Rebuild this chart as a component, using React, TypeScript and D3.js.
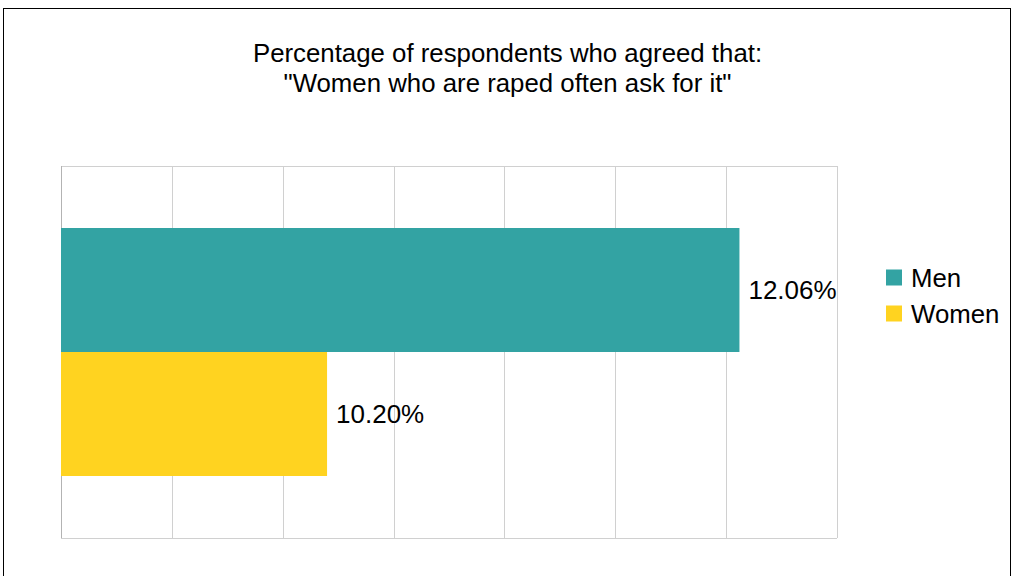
import React from "react";
import * as d3 from "d3";

const titleLines = ["Percentage of respondents who agreed that:", "\"Women who are raped often ask for it\""];
const seriesNames = ["Men", "Women"];
const seriesValues = [12.06, 10.2];
const seriesColors = ["#33a3a3", "#ffd320"];
const axisDomain = [9, 12.5];
const tickStep = 0.5;

const W = 1014;
const H = 576;
const plot = { left: 61, right: 837, top: 166, bottom: 538 };
const FONT = "'Liberation Sans', Arial, sans-serif";

export default function App() {
  const x = d3.scaleLinear().domain(axisDomain).range([plot.left, plot.right]);
  const y = d3
    .scaleBand<string>()
    .domain(seriesNames)
    .range([plot.top, plot.bottom])
    .paddingInner(0)
    .paddingOuter(0.5);
  const ticks = d3.range(axisDomain[0], axisDomain[1] + tickStep / 2, tickStep);

  return (
    <svg
      width={W}
      height={H}
      style={{ position: "absolute", left: 0, top: 0, background: "#fff" }}
      fontFamily={FONT}
    >
      <rect x={0} y={0} width={W} height={H} fill="#fff" />
      <rect x={3.5} y={8.5} width={1007} height={600} fill="none" stroke="#000" strokeWidth={1} />
      {titleLines.map((t, i) => (
        <text key={i} x={507.5} y={62 + i * 30} textAnchor="middle" fontSize={25.8} fill="#000">
          {t}
        </text>
      ))}
      {/* gridlines */}
      <line x1={plot.left} x2={plot.right} y1={plot.top + 0.5} y2={plot.top + 0.5} stroke="#d0d0d0" strokeWidth={1} />
      <line x1={plot.left} x2={plot.right} y1={plot.bottom + 0.5} y2={plot.bottom + 0.5} stroke="#d0d0d0" strokeWidth={1} />
      {ticks.map((t, i) => (
        <line
          key={i}
          x1={Math.round(x(t)) + 0.5}
          x2={Math.round(x(t)) + 0.5}
          y1={plot.top}
          y2={plot.bottom}
          stroke={i === 0 ? "#b3b3b3" : "#d0d0d0"}
          strokeWidth={1}
        />
      ))}
      {seriesNames.map((s, i) => (
        <rect
          key={s}
          x={x(axisDomain[0])}
          y={y(s)}
          width={x(seriesValues[i]) - x(axisDomain[0])}
          height={y.bandwidth()}
          fill={seriesColors[i]}
        />
      ))}
      {seriesNames.map((s, i) => (
        <text
          key={s}
          x={x(seriesValues[i]) + 9}
          y={(y(s) as number) + y.bandwidth() / 2}
          dy="0.35em"
          fontSize={26}
          fill="#000"
        >
          {seriesValues[i].toFixed(2) + "%"}
        </text>
      ))}
      {seriesNames.map((s, i) => (
        <g key={s} transform={`translate(886, ${269.5 + i * 36})`}>
          <rect x={0} y={0} width={16} height={16} fill={seriesColors[i]} />
          <text x={25} y={17.5} fontSize={25.8} fill="#000">
            {s}
          </text>
        </g>
      ))}
    </svg>
  );
}
